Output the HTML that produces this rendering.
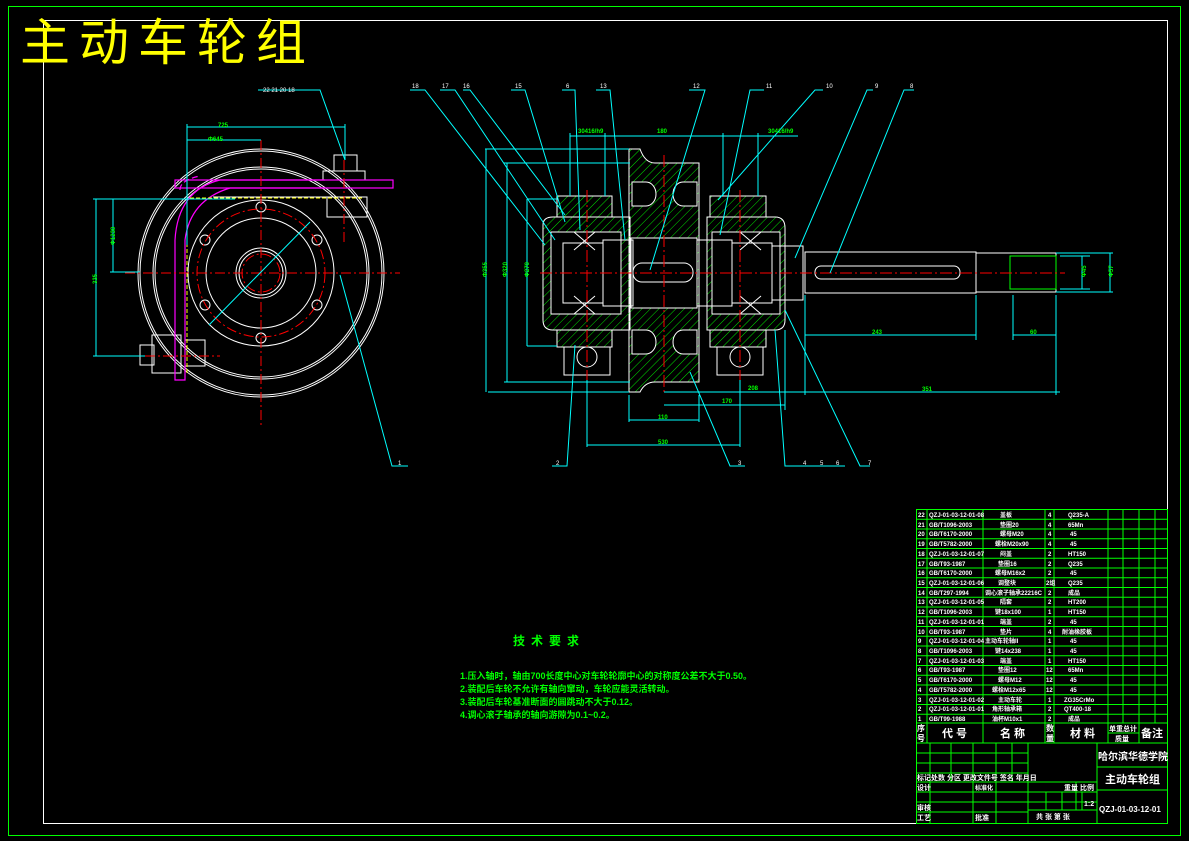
<!DOCTYPE html>
<html><head><meta charset="utf-8"><style>
html,body{margin:0;padding:0;background:#000;}
svg{display:block;}
text{font-family:"Liberation Sans","Noto Sans CJK SC",sans-serif;}
</style></head><body>
<svg width="1189" height="841" viewBox="0 0 1189 841" xmlns="http://www.w3.org/2000/svg">
<defs>
<pattern id="h" width="6" height="6" patternUnits="userSpaceOnUse" patternTransform="rotate(45)">
<line x1="0" y1="0" x2="0" y2="6" stroke="#00e000" stroke-width="1"/>
</pattern>
</defs>
<rect x="0" y="0" width="1189" height="841" fill="#000"/>
<rect x="8.5" y="6.5" width="1172" height="829" fill="none" stroke="#00ff00" stroke-width="1"/>
<rect x="43.5" y="20.5" width="1124" height="803" fill="none" stroke="#fff" stroke-width="1"/>
<text x="20" y="60" fill="#ffff00" font-size="50" letter-spacing="9">主动车轮组</text>

<!-- LEFT VIEW -->
<g fill="none" stroke="#fff" stroke-width="1">
<ellipse cx="261" cy="273" rx="123" ry="124"/>
<ellipse cx="261" cy="273" rx="121" ry="122"/>
<ellipse cx="261" cy="273" rx="108" ry="106"/>
<ellipse cx="261" cy="273" rx="106" ry="104"/>
<circle cx="261" cy="273" r="73"/>
<circle cx="261" cy="273" r="55"/>
<circle cx="261" cy="273" r="25"/>
<circle cx="261" cy="273" r="22"/>
<circle cx="261" cy="207" r="5"/><circle cx="261" cy="338" r="5"/>
<circle cx="205" cy="240" r="5"/><circle cx="317" cy="240" r="5"/>
<circle cx="205" cy="305" r="5"/><circle cx="317" cy="305" r="5"/>
<rect x="323" y="171" width="42" height="9"/>
<rect x="334" y="155" width="23" height="16"/>
<rect x="327" y="197" width="40" height="20"/>
<rect x="152" y="335" width="29" height="38"/>
<rect x="140" y="345" width="14" height="20"/>
<rect x="185" y="340" width="20" height="26"/>
<line x1="213" y1="197" x2="365" y2="197"/>
<line x1="185" y1="245" x2="185" y2="365"/>
</g>
<g fill="none" stroke="#ff00ff" stroke-width="1.2">
<rect x="175" y="180" width="218" height="8"/>
<path d="M325 180 H220 Q178 190 175 240 V380 H185 V240 Q190 200 230 188 H325"/>
<path d="M180 190 Q180 180 200 176" stroke-dasharray="6 3"/>
</g>
<g fill="none" stroke="#ff0000" stroke-width="1" stroke-dasharray="10 3 2 3">
<circle cx="261" cy="273" r="64"/>
<circle cx="261" cy="273" r="19"/>
<line x1="125" y1="273" x2="400" y2="273"/>
<line x1="261" y1="140" x2="261" y2="425"/>
<line x1="145" y1="356" x2="220" y2="356"/>
<line x1="344" y1="160" x2="344" y2="245"/>
</g>
<line x1="187" y1="195" x2="187" y2="375" stroke="#ffff00" stroke-dasharray="4 2"/>
<line x1="190" y1="198" x2="362" y2="198" stroke="#ffff00" stroke-dasharray="4 2"/>
<g fill="none" stroke="#00ffff" stroke-width="1">
<line x1="187" y1="127" x2="345" y2="127"/>
<line x1="187" y1="140" x2="261" y2="140"/>
<line x1="187" y1="124" x2="187" y2="245"/>
<line x1="345" y1="124" x2="345" y2="160"/>
<line x1="93" y1="199" x2="235" y2="199"/>
<line x1="110" y1="272" x2="140" y2="272"/>
<line x1="93" y1="356" x2="145" y2="356"/>
<line x1="96" y1="199" x2="96" y2="356"/>
<line x1="113" y1="199" x2="113" y2="272"/>
<line x1="209" y1="325" x2="310" y2="222"/>
<polyline points="258,90 320,90 345,160"/>
<polyline points="340,275 392,466 408,466"/>
</g>
<g fill="#00ff00" font-size="6" font-weight="bold">
<text x="218" y="127">725</text>
<text x="208" y="141">Φ645</text>
<text x="88" y="285" transform="rotate(-90 92 280)">335</text>
<text x="105" y="245" transform="rotate(-90 110 240)">Φ1230</text>
</g>
<g fill="#fff" font-size="6"><text x="263" y="92">22 21 20 18</text><text x="398" y="465">1</text></g>

<!-- CENTER VIEW -->
<g stroke="#fff" stroke-width="1">
<path d="M629 149 H640 Q645 163 655 163 H699 V382 H655 Q645 382 640 392 H629 Z" fill="url(#h)"/>
<rect x="631" y="238" width="66" height="70" fill="#000"/>
<path d="M632 182 h14 a10 12 0 0 1 0 24 h-14 Z" fill="#000"/>
<path d="M697 182 h-14 a10 12 0 0 0 0 24 h14 Z" fill="#000"/>
<path d="M632 330 h14 a10 12 0 0 1 0 24 h-14 Z" fill="#000"/>
<path d="M697 330 h-14 a10 12 0 0 0 0 24 h14 Z" fill="#000"/>
<path d="M543 225 Q543 217 553 217 H630 V330 H553 Q543 330 543 320 Z" fill="url(#h)"/>
<rect x="557" y="196" width="55" height="21" fill="url(#h)"/>
<rect x="557" y="330" width="55" height="17" fill="url(#h)"/>
<rect x="551" y="232" width="70" height="82" fill="#000"/>
<rect x="564" y="347" width="46" height="28" fill="none"/>
<circle cx="587" cy="357" r="10" fill="none"/>
<path d="M707 217 H775 Q785 217 785 228 V320 Q785 330 775 330 H707 Z" fill="url(#h)"/>
<rect x="710" y="196" width="56" height="21" fill="url(#h)"/>
<rect x="710" y="330" width="56" height="17" fill="url(#h)"/>
<rect x="712" y="232" width="68" height="82" fill="#000"/>
<rect x="717" y="347" width="46" height="28" fill="none"/>
<circle cx="740" cy="357" r="10" fill="none"/>
<rect x="563" y="243" width="40" height="60" fill="none"/>
<rect x="732" y="243" width="40" height="60" fill="none"/>
<rect x="603" y="240" width="30" height="66" fill="none"/>
<rect x="697" y="240" width="35" height="66" fill="none"/>
<path d="M574 232 L595 250 M595 232 L574 250 M574 296 L595 314 M595 296 L574 314" fill="none"/>
<path d="M740 232 L761 250 M761 232 L740 250 M740 296 L761 314 M761 296 L740 314" fill="none"/>
<rect x="772" y="246" width="31" height="54" fill="none"/>
<rect x="805" y="252" width="171" height="41" fill="none"/>
<rect x="976" y="253" width="80" height="39" fill="none"/>
<rect x="633" y="263" width="60" height="19" rx="9" fill="none"/>
<rect x="815" y="266" width="145" height="13" rx="6" fill="none"/>
</g>
<rect x="1010" y="256" width="46" height="33" fill="none" stroke="#00ff00"/>
<g fill="none" stroke="#ff0000" stroke-width="1" stroke-dasharray="12 3 2 3">
<line x1="540" y1="273" x2="1065" y2="273"/>
<line x1="664" y1="155" x2="664" y2="392"/>
<line x1="587" y1="190" x2="587" y2="380"/>
<line x1="740" y1="190" x2="740" y2="380"/>
</g>
<g fill="none" stroke="#00ffff" stroke-width="1">
<line x1="570" y1="136" x2="798" y2="136"/>
<line x1="570" y1="133" x2="570" y2="196"/><line x1="605" y1="133" x2="605" y2="196"/>
<line x1="723" y1="133" x2="723" y2="196"/><line x1="758" y1="133" x2="758" y2="196"/>
<line x1="485" y1="149" x2="629" y2="149"/><line x1="488" y1="392" x2="629" y2="392"/>
<line x1="504" y1="163" x2="630" y2="163"/><line x1="504" y1="382" x2="630" y2="382"/>
<line x1="527" y1="199" x2="557" y2="199"/><line x1="527" y1="346" x2="557" y2="346"/>
<line x1="486" y1="149" x2="486" y2="392"/><line x1="507" y1="163" x2="507" y2="382"/>
<line x1="527" y1="199" x2="527" y2="346"/>
<line x1="629" y1="395" x2="629" y2="422"/><line x1="699" y1="395" x2="699" y2="422"/>
<line x1="629" y1="420" x2="699" y2="420"/>
<line x1="587" y1="380" x2="587" y2="447"/><line x1="740" y1="380" x2="740" y2="447"/>
<line x1="587" y1="445" x2="740" y2="445"/>
<line x1="664" y1="392" x2="1060" y2="392"/>
<line x1="664" y1="405" x2="785" y2="405"/>
<line x1="785" y1="330" x2="785" y2="410"/>
<line x1="805" y1="295" x2="805" y2="395"/><line x1="976" y1="295" x2="976" y2="340"/>
<line x1="805" y1="335" x2="976" y2="335"/>
<line x1="1013" y1="295" x2="1013" y2="340"/><line x1="1056" y1="295" x2="1056" y2="395"/>
<line x1="1013" y1="335" x2="1056" y2="335"/>
<line x1="1056" y1="253" x2="1113" y2="253"/><line x1="1056" y1="292" x2="1113" y2="292"/>
<line x1="1060" y1="256" x2="1090" y2="256"/><line x1="1060" y1="289" x2="1090" y2="289"/>
<line x1="1082" y1="256" x2="1082" y2="289"/><line x1="1110" y1="253" x2="1110" y2="292"/>
<polyline points="410,90 425,90 545,245"/>
<polyline points="440,90 455,90 555,240"/>
<polyline points="463,90 470,90 565,215"/>
<polyline points="511,90 525,90 565,222"/>
<polyline points="562,90 575,90 580,230"/>
<polyline points="596,90 610,90 625,240"/>
<polyline points="689,90 705,90 650,270"/>
<polyline points="764,90 750,90 720,235"/>
<polyline points="823,90 815,90 718,200"/>
<polyline points="873,90 867,90 795,258"/>
<polyline points="914,90 904,90 830,273"/>
<polyline points="552,466 567,466 575,345"/>
<polyline points="745,466 730,466 690,372"/>
<polyline points="800,466 785,466 775,330"/>
<polyline points="870,466 860,466 785,310"/>
<line x1="800" y1="466" x2="845" y2="466"/>
</g>
<g fill="#00ff00" font-size="6" font-weight="bold">
<text x="578" y="133">30416/h9</text><text x="657" y="133">180</text><text x="768" y="133">30416/h9</text>
<text x="872" y="334">243</text><text x="1030" y="334">60</text>
<text x="922" y="391">351</text><text x="748" y="390">208</text><text x="722" y="403">170</text>
<text x="658" y="419">110</text><text x="658" y="444">530</text>
<text x="476" y="280" transform="rotate(-90 480 273)">Φ355</text>
<text x="496" y="280" transform="rotate(-90 500 273)">Φ320</text>
<text x="518" y="280" transform="rotate(-90 522 273)">Φ270</text>
<text x="1102" y="280" transform="rotate(-90 1106 273)">Φ57</text>
<text x="1075" y="280" transform="rotate(-90 1079 273)">Φ45</text>
</g>
<g fill="#fff" font-size="6">
<text x="412" y="88">18</text><text x="442" y="88">17</text><text x="463" y="88">16</text><text x="515" y="88">15</text>
<text x="566" y="88">6</text><text x="600" y="88">13</text><text x="693" y="88">12</text><text x="766" y="88">11</text>
<text x="826" y="88">10</text><text x="875" y="88">9</text><text x="910" y="88">8</text>
<text x="556" y="465">2</text><text x="738" y="465">3</text><text x="803" y="465">4</text><text x="820" y="465">5</text><text x="836" y="465">6</text><text x="868" y="465">7</text>
</g>

<!-- TECH REQUIREMENTS -->
<g fill="#00ff00" font-weight="bold">
<text x="513" y="645" font-size="12" letter-spacing="6">技术要求</text>
<text x="460" y="679" font-size="9">1.压入轴时，轴由700长度中心对车轮轮廓中心的对称度公差不大于0.50。</text>
<text x="460" y="692" font-size="9">2.装配后车轮不允许有轴向窜动，车轮应能灵活转动。</text>
<text x="460" y="705" font-size="9">3.装配后车轮基准断面的圆跳动不大于0.12。</text>
<text x="460" y="718" font-size="9">4.调心滚子轴承的轴向游隙为0.1~0.2。</text>
</g>

<!-- TITLE BLOCK -->
<g stroke="#00ff00" stroke-width="1" fill="none">
<rect x="916.5" y="509.5" width="251" height="314"/>
<line x1="927" y1="509" x2="927" y2="743"/>
<line x1="983" y1="509" x2="983" y2="743"/>
<line x1="1045" y1="509" x2="1045" y2="743"/>
<line x1="1054" y1="509" x2="1054" y2="743"/>
<line x1="1108" y1="509" x2="1108" y2="743"/>
<line x1="1123" y1="509" x2="1123" y2="723"/>
<line x1="1139" y1="509" x2="1139" y2="743"/>
<line x1="1155" y1="509" x2="1155" y2="723"/>
<line x1="1108" y1="733" x2="1139" y2="733"/>
<line x1="916" y1="723" x2="1167" y2="723"/>
<line x1="916" y1="743" x2="1167" y2="743"/>
<path d="M916 519.3H1167M916 529H1167M916 538.8H1167M916 548.5H1167M916 558.3H1167M916 568H1167M916 577.8H1167M916 587.5H1167M916 597.3H1167M916 607H1167M916 616.8H1167M916 626.5H1167M916 636.3H1167M916 646H1167M916 655.8H1167M916 665.5H1167M916 675.3H1167M916 685H1167M916 694.8H1167M916 704.5H1167M916 714.3H1167"/>
<path d="M916 753H1028M916 763H1028M916 773H1028M916 782H1097M916 792H1097M916 802H1097M916 812H1028M1028 810H1097M1097 767H1167M1097 790H1167"/>
<path d="M930 743V823M951 743V782M973 743V823M996 743V823M1012 743V782M1028 743V823M1097 743V823M1046 792V810M1062 792V810M1076 782V810M1082 792V810"/>
</g>
<g fill="#fff" font-size="6" font-weight="bold">
<text x="918" y="517">22</text><text x="929" y="517">QZJ-01-03-12-01-08</text><text x="1000" y="517">盖板</text><text x="1048" y="517">4</text><text x="1068" y="517">Q235-A</text>
<text x="918" y="527">21</text><text x="929" y="527">GB/T1096-2003</text><text x="1000" y="527">垫圈20</text><text x="1048" y="527">4</text><text x="1068" y="527">65Mn</text>
<text x="918" y="536">20</text><text x="929" y="536">GB/T6170-2000</text><text x="1000" y="536">螺母M20</text><text x="1048" y="536">4</text><text x="1070" y="536">45</text>
<text x="918" y="546">19</text><text x="929" y="546">GB/T5782-2000</text><text x="995" y="546">螺栓M20x90</text><text x="1048" y="546">4</text><text x="1070" y="546">45</text>
<text x="918" y="556">18</text><text x="929" y="556">QZJ-01-03-12-01-07</text><text x="1000" y="556">闷盖</text><text x="1048" y="556">2</text><text x="1068" y="556">HT150</text>
<text x="918" y="566">17</text><text x="929" y="566">GB/T93-1987</text><text x="998" y="566">垫圈16</text><text x="1048" y="566">2</text><text x="1068" y="566">Q235</text>
<text x="918" y="575">16</text><text x="929" y="575">GB/T6170-2000</text><text x="995" y="575">螺母M16x2</text><text x="1048" y="575">2</text><text x="1070" y="575">45</text>
<text x="918" y="585">15</text><text x="929" y="585">QZJ-01-03-12-01-06</text><text x="998" y="585">调整块</text><text x="1046" y="585">2组</text><text x="1068" y="585">Q235</text>
<text x="918" y="595">14</text><text x="929" y="595">GB/T297-1994</text><text x="985" y="595">调心滚子轴承22216C</text><text x="1048" y="595">2</text><text x="1068" y="595">成品</text>
<text x="918" y="604">13</text><text x="929" y="604">QZJ-01-03-12-01-05</text><text x="1000" y="604">隔套</text><text x="1048" y="604">2</text><text x="1068" y="604">HT200</text>
<text x="918" y="614">12</text><text x="929" y="614">GB/T1096-2003</text><text x="995" y="614">键18x100</text><text x="1048" y="614">1</text><text x="1068" y="614">HT150</text>
<text x="918" y="624">11</text><text x="929" y="624">QZJ-01-03-12-01-01</text><text x="1000" y="624">端盖</text><text x="1048" y="624">2</text><text x="1070" y="624">45</text>
<text x="918" y="634">10</text><text x="929" y="634">GB/T93-1987</text><text x="1000" y="634">垫片</text><text x="1048" y="634">4</text><text x="1062" y="634">耐油橡胶板</text>
<text x="918" y="643">9</text><text x="929" y="643">QZJ-01-03-12-01-04</text><text x="985" y="643">主动车轮轴II</text><text x="1048" y="643">1</text><text x="1070" y="643">45</text>
<text x="918" y="653">8</text><text x="929" y="653">GB/T1096-2003</text><text x="995" y="653">键14x238</text><text x="1048" y="653">1</text><text x="1070" y="653">45</text>
<text x="918" y="663">7</text><text x="929" y="663">QZJ-01-03-12-01-03</text><text x="1000" y="663">端盖</text><text x="1048" y="663">1</text><text x="1068" y="663">HT150</text>
<text x="918" y="672">6</text><text x="929" y="672">GB/T93-1987</text><text x="998" y="672">垫圈12</text><text x="1046" y="672">12</text><text x="1068" y="672">65Mn</text>
<text x="918" y="682">5</text><text x="929" y="682">GB/T6170-2000</text><text x="998" y="682">螺母M12</text><text x="1046" y="682">12</text><text x="1070" y="682">45</text>
<text x="918" y="692">4</text><text x="929" y="692">GB/T5782-2000</text><text x="992" y="692">螺栓M12x65</text><text x="1046" y="692">12</text><text x="1070" y="692">45</text>
<text x="918" y="702">3</text><text x="929" y="702">QZJ-01-03-12-01-02</text><text x="998" y="702">主动车轮</text><text x="1048" y="702">1</text><text x="1064" y="702">ZG35CrMo</text>
<text x="918" y="711">2</text><text x="929" y="711">QZJ-01-03-12-01-01</text><text x="992" y="711">角形轴承箱</text><text x="1048" y="711">2</text><text x="1064" y="711">QT400-18</text>
<text x="918" y="721">1</text><text x="929" y="721">GB/T99-1988</text><text x="992" y="721">油杯M10x1</text><text x="1048" y="721">2</text><text x="1068" y="721">成品</text>
<text x="917" y="731" font-size="8">序</text><text x="917" y="741" font-size="8">号</text>
<text x="942" y="737" font-size="11">代 号</text><text x="1000" y="737" font-size="11">名 称</text>
<text x="1046" y="731" font-size="8">数</text><text x="1046" y="741" font-size="8">量</text>
<text x="1070" y="737" font-size="11">材 料</text>
<text x="1109" y="731" font-size="7">单重总计</text><text x="1115" y="741" font-size="7">质量</text>
<text x="1141" y="737" font-size="11">备注</text>
<text x="1098" y="760" font-size="10">哈尔滨华德学院</text>
<text x="1105" y="783" font-size="11">主动车轮组</text>
<text x="1099" y="812" font-size="8">QZJ-01-03-12-01</text>
<text x="917" y="780" font-size="7">标记处数 分区 更改文件号 签名 年月日</text>
<text x="917" y="790" font-size="7">设计</text><text x="975" y="790" font-size="6">标准化</text>
<text x="1064" y="790" font-size="7">重量 比例</text>
<text x="1084" y="806" font-size="7">1:2</text>
<text x="917" y="810" font-size="7">审核</text>
<text x="917" y="820" font-size="7">工艺</text><text x="975" y="820" font-size="7">批准</text>
<text x="1036" y="819" font-size="7">共  张  第  张</text>
</g>
</svg>
</body></html>
